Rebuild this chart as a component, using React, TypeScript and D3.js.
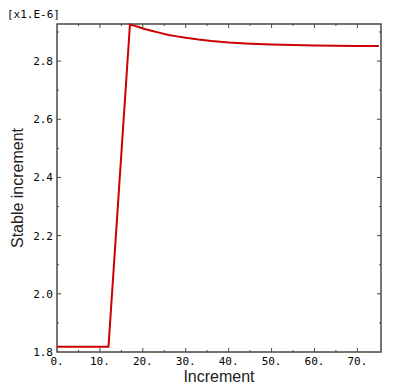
import React, { useEffect, useRef } from 'react';
import * as d3 from 'd3';

// Increment vs stable increment (values in x1e-6)
const increments = [0, 12, 17, 18, 19, 20, 22, 24, 26, 28, 30, 33, 36, 40, 45, 50, 55, 60, 65, 70, 75];
const stable = [1.818, 1.818, 2.926, 2.922, 2.917, 2.912, 2.904, 2.897, 2.890, 2.885, 2.880, 2.874, 2.869, 2.864, 2.860, 2.857, 2.855, 2.854, 2.853, 2.852, 2.852];
const xTicks = [0, 10, 20, 30, 40, 50, 60, 70];
const yTicks = [1.8, 2.0, 2.2, 2.4, 2.6, 2.8];

export default function App() {
  const ref = useRef<SVGSVGElement>(null);

  useEffect(() => {
    if (!ref.current) return;
    const svg = d3.select(ref.current);
    svg.selectAll('*').remove();

    const width = 400;
    const height = 389;
    const margin = { top: 24, right: 19, bottom: 37, left: 57 };
    const x0 = margin.left, x1 = width - margin.right;
    const y0 = height - margin.bottom, y1 = margin.top;
    const axisColor = '#4a4a42';
    const tickFont = '"DejaVu Sans Mono", monospace';

    const x = d3.scaleLinear().domain([0, 75.5]).range([x0, x1]);
    const y = d3.scaleLinear().domain([1.8, 2.9275]).range([y0, y1]);

    const g = svg.append('g');

    // frame
    g.append('rect')
      .attr('x', x0).attr('y', y1)
      .attr('width', x1 - x0).attr('height', y0 - y1)
      .attr('fill', 'none').attr('stroke', axisColor).attr('stroke-width', 1.5);

    // x ticks (major + minor), on bottom and top, pointing inward
    const xMinor = d3.range(5, 75, 10);
    const drawX = (vals: number[], len: number) => {
      vals.forEach(v => {
        g.append('line').attr('x1', x(v)).attr('x2', x(v)).attr('y1', y0).attr('y2', y0 - len)
          .attr('stroke', axisColor).attr('stroke-width', 1);
        g.append('line').attr('x1', x(v)).attr('x2', x(v)).attr('y1', y1).attr('y2', y1 + len)
          .attr('stroke', axisColor).attr('stroke-width', 1);
      });
    };
    drawX(xTicks.slice(1), 4);
    drawX(xMinor, 2);

    const yMinor = d3.range(1.9, 2.95, 0.2);
    const drawY = (vals: number[], len: number) => {
      vals.forEach(v => {
        g.append('line').attr('x1', x0).attr('x2', x0 + len).attr('y1', y(v)).attr('y2', y(v))
          .attr('stroke', axisColor).attr('stroke-width', 1);
        g.append('line').attr('x1', x1).attr('x2', x1 - len).attr('y1', y(v)).attr('y2', y(v))
          .attr('stroke', axisColor).attr('stroke-width', 1);
      });
    };
    drawY(yTicks.slice(1), 4);
    drawY(yMinor, 2);

    // tick labels
    g.selectAll('.xl').data(xTicks).join('text')
      .attr('x', d => x(d)).attr('y', y0 + 13)
      .attr('text-anchor', 'middle')
      .attr('font-family', tickFont).attr('font-size', 11).attr('fill', '#000')
      .text(d => `${d}.`);

    g.selectAll('.yl').data(yTicks).join('text')
      .attr('x', x0 - 4).attr('y', d => y(d) + 4)
      .attr('text-anchor', 'end')
      .attr('font-family', tickFont).attr('font-size', 11).attr('fill', '#000')
      .text(d => d.toFixed(1));

    g.append('text')
      .attr('x', 7).attr('y', 18)
      .attr('font-family', tickFont).attr('font-size', 11).attr('fill', '#000')
      .text('[x1.E-6]');

    // axis titles
    g.append('text')
      .attr('x', (x0 + x1) / 2).attr('y', y0 + 30)
      .attr('text-anchor', 'middle')
      .attr('font-family', '"Liberation Sans", Arial, sans-serif').attr('font-size', 16).attr('fill', '#222')
      .text('Increment');

    g.append('text')
      .attr('transform', `translate(23,${(y0 + y1) / 2}) rotate(-90)`)
      .attr('text-anchor', 'middle')
      .attr('font-family', '"Liberation Sans", Arial, sans-serif').attr('font-size', 16).attr('fill', '#222')
      .text('Stable increment');

    // line
    const line = d3.line<number>()
      .x((d, i) => x(increments[i]))
      .y(d => y(d));

    g.append('path')
      .datum(stable)
      .attr('d', line)
      .attr('fill', 'none')
      .attr('stroke', '#cc0000')
      .attr('stroke-width', 2);
  }, []);

  return (
    <svg ref={ref} width={400} height={389} style={{ position: 'absolute', left: 0, top: 0, background: '#fff' }} />
  );
}
